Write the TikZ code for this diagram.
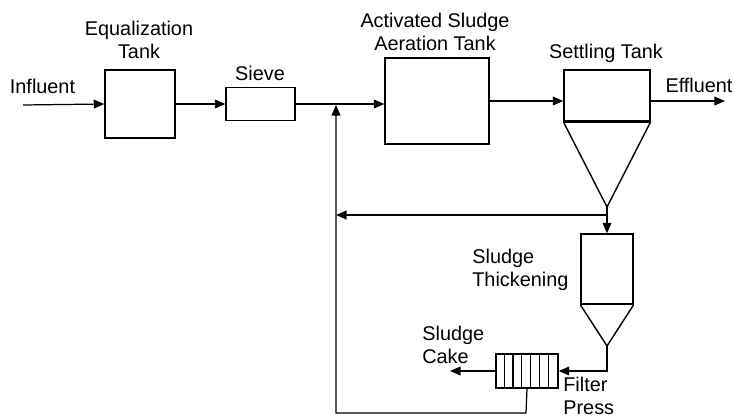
\documentclass[tikz,border=0pt]{standalone}
\usepackage{fontspec}
\setmainfont{Liberation Sans}
\usetikzlibrary{arrows.meta}
\tikzset{
  unit/.style={draw, line width=0.8pt, inner sep=0pt},
  flow/.style={line width=0.7pt, -{Triangle[length=6pt,width=5pt]}},
  pipe/.style={line width=0.7pt},
  lbl/.style={align=center, inner sep=0pt, font=\fontsize{11.3}{13}\selectfont},
  lbll/.style={lbl, align=left, anchor=west}
}
\begin{document}
\begin{tikzpicture}[x=0.02cm,y=-0.02cm]
  \useasboundingbox (0,0) rectangle (733,418);
  % vasche e unita
  \node[unit, minimum width=1.4cm,  minimum height=1.36cm] (eq)     at (140,104)   {};
  \node[unit, minimum width=1.38cm, minimum height=0.66cm] (sieve)  at (260.5,104) {};
  \node[unit, minimum width=2.08cm, minimum height=1.72cm] (aer)    at (437,101)   {};
  \node[unit, minimum width=1.72cm, minimum height=1.02cm] (settle) at (607,95.5)  {};
  \node[unit, minimum width=1.04cm, minimum height=1.4cm]  (thick)  at (607,269)   {};
  \node[unit, minimum width=1.24cm, minimum height=0.68cm] (press)  at (527,371)   {};
  % coni
  \coordinate (sapex) at (607,207);
  \coordinate (tapex) at (607,346);
  \draw[line width=1.5pt] (settle.south west) -- (settle.south east);
  \draw[line width=0.8pt] (settle.south west) -- (sapex) -- (settle.south east);
  \draw[line width=0.8pt] (thick.south west) -- (tapex) -- (thick.south east);
  % piastre della filtropressa
  \foreach \i in {1,...,6} {
    \draw[line width=0.6pt] ([xshift=\i*0.177cm]press.south west) -- ([xshift=\i*0.177cm]press.north west);
  }
  % punti di collegamento
  \coordinate (inflow) at (23,105);
  \coordinate (mix)    at (336,105);
  \coordinate (split)  at (607,215);
  \coordinate (outflow) at (725,101);
  \coordinate (cake)   at (450,371);
  \coordinate (bottom) at (526,413);
  % flussi
  \draw[flow] (inflow) -- (eq.west);
  \draw[flow] (eq.east) -- (sieve.west);
  \draw[flow] (sieve.east) -- (aer.west |- sieve.east);
  \draw[flow] (aer.east) -- (settle.west |- aer.east);
  \draw[flow] (settle.east |- outflow) -- (outflow);
  \draw[pipe] (sapex) -- (split);
  \draw[flow] (split) -- (thick.north);
  \draw[flow] (split) -- (mix |- split);
  \draw[flow] (tapex) |- (press.east);
  \draw[flow] (press.west) -- (cake);
  \draw[flow] (press.south) -- (bottom) -| (mix);
  % etichette
  \node[lbl] (linf)    at (42.5,86)  {Influent};
  \node[lbl] (leq)     at (139,40)   {Equalization\\Tank};
  \node[lbl] (lsieve)  at (260,73)   {Sieve};
  \node[lbl] (laer)    at (435,31.5) {Activated Sludge\\Aeration Tank};
  \node[lbl] (lsettle) at (606,53)   {Settling Tank};
  \node[lbl] (leff)    at (699,85)   {Effluent};
  \node[lbll] (lthick) at (472,270)  {Sludge\\Thickening};
  \node[lbll] (lcake)  at (422,345)  {Sludge\\Cake};
  \node[lbll] (lpress) at (563,396)  {Filter\\Press};
\end{tikzpicture}
\end{document}
